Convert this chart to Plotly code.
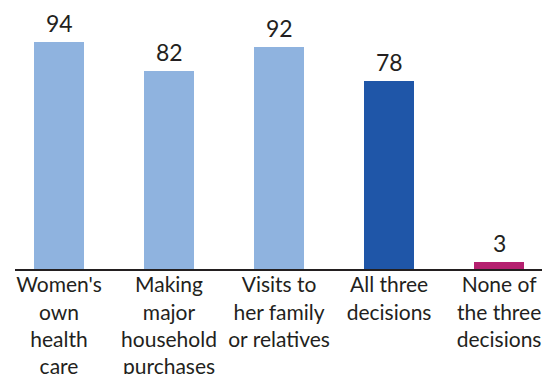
import plotly.graph_objects as go

categories = ["Women's<br>own<br>health<br>care",
              "Making<br>major<br>household<br>purchases",
              "Visits to<br>her family<br>or relatives",
              "All three<br>decisions",
              "None of<br>the three<br>decisions"]
values = [94, 82, 92, 78, 3]
colors = ["#8FB3DF", "#8FB3DF", "#8FB3DF", "#1F56A8", "#B5206F"]

xs = list(range(len(values)))

fig = go.Figure()
fig.add_trace(go.Bar(
    x=xs, y=values, width=0.4545,
    marker=dict(color=colors, line=dict(width=0)),
    hoverinfo="skip",
))

for xi, v in zip(xs, values):
    fig.add_annotation(x=xi, y=v, text=str(v), showarrow=False,
                       yanchor="bottom", yshift=3,
                       font=dict(family="Lato", size=23, color="#231F20"))

fig.update_layout(
    width=548, height=374,
    margin=dict(l=15, r=6, t=10, b=105),
    paper_bgcolor="white", plot_bgcolor="white",
    showlegend=False,
    bargap=0,
    xaxis=dict(
        range=[-0.4, 4.39],
        tickmode="array", tickvals=xs, ticktext=categories,
        showline=True, linecolor="#231F20", linewidth=2,
        showgrid=False, zeroline=False, ticks="",
        tickfont=dict(family="Lato", size=21, color="#231F20"),
        ticklabelstandoff=-4,
        automargin=False, fixedrange=True,
    ),
    yaxis=dict(
        range=[0, 107.2], visible=False, showgrid=False, zeroline=False,
        automargin=False, fixedrange=True,
    ),
)

fig.write_html("out.html", config={"displayModeBar": False},
               post_script="document.body.style.margin='0';document.body.style.overflow='hidden';")
